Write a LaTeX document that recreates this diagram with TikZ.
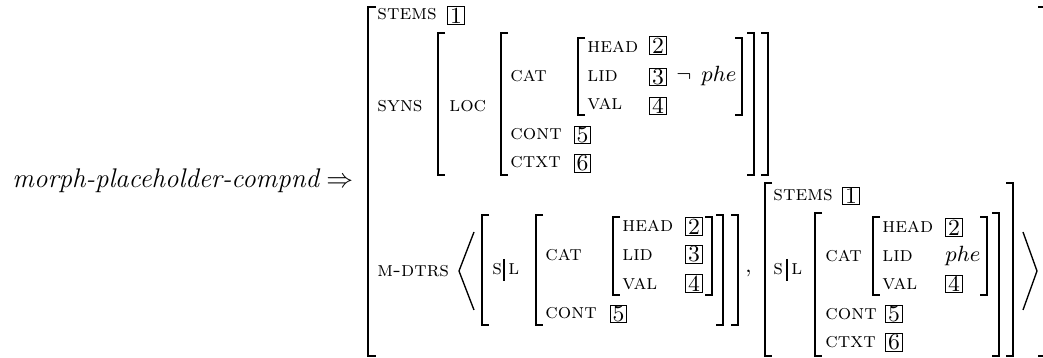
\documentclass[tikz,border=0pt]{standalone}
\newcommand\LBrk[4][7]{\draw[br] ({#2+#1},#3) -- (#2,#3) -- (#2,#4) -- ({#2+#1},#4);}
\newcommand\RBrk[4][7]{\draw[br] ({#2-#1},#3) -- (#2,#3) -- (#2,#4) -- ({#2-#1},#4);}
\begin{document}
\begin{tikzpicture}[
 x=0.4082pt, y=-0.4082pt,
 br/.style={line width=0.55pt, line cap=butt},
 lab/.style={anchor=base west, inner sep=0pt, font=\fontsize{8.6}{10}\selectfont\scshape},
 val/.style={anchor=base west, inner sep=0pt, font=\fontsize{9}{11}\selectfont},
 tag/.style={draw, line width=0.4pt, inner sep=0pt, minimum width=6.7pt, minimum height=7.1pt, font=\fontsize{9.4}{11}\selectfont},
]
\useasboundingbox (0,0) rectangle (1043,358);
% title
\node[val, font=\fontsize{11}{13}\selectfont] (title) at (12,188) {$\textit{morph-placeholder-compnd}\Rightarrow$};
% outer bracket
\LBrk[8]{368}{7}{356}
\RBrk[6]{1044}{7}{356}
% top level
\node[lab] (stems) at (377,20) {stems};
\node[tag] (t1) at (456,15.5) {1};
\node[lab] (syns) at (377,112) {syns};
\LBrk{438}{33}{175}
\RBrk{768}{33}{175}
\node[lab] (loc) at (449,112) {loc};
\LBrk{501}{33}{175}
\RBrk{754}{33}{175}
\node[lab] (cat) at (510,82) {cat};
\LBrk{578}{38}{115}
\RBrk{742}{38}{115}
\node[lab] (head) at (587,53) {head};
\node[tag] (t2) at (658,45.5) {2};
\node[lab] (lid) at (587,82) {lid};
\node[tag] (t3) at (658,77) {3};
\node[val] (neg) at (676,82) {$\neg$};
\node[val] (phe) at (701,82) {$phe$};
\node[lab] (valf) at (587,110) {val};
\node[tag] (t4) at (658,106) {4};
\node[lab] (cont) at (510,140) {cont};
\node[tag] (t5) at (582.5,135) {5};
\node[lab] (ctxt) at (510,168) {ctxt};
\node[tag] (t6) at (582.5,163.5) {6};
% m-dtrs
\node[lab] (mdtrs) at (377,277) {m-dtrs};
\draw[br] (474,232) -- (459,271) -- (474,310);
% element 1
\LBrk{482}{215}{325}
\RBrk{738}{215}{325}
\node[lab] (s1) at (492,275) {s};
\draw[line width=0.45pt] (504,259) -- (504,281);
\node[lab] (l1) at (508,275) {l};
\LBrk{536}{215}{325}
\RBrk{723}{215}{325}
\node[lab] (cat1) at (545,261) {cat};
\LBrk{613}{217}{295}
\RBrk{712}{217}{295}
\node[lab] (head1) at (622,232) {head};
\node[tag] (t21) at (694,226.5) {2};
\node[lab] (lid1) at (622,261) {lid};
\node[tag] (t31) at (694,254.5) {3};
\node[lab] (val1) at (622,290) {val};
\node[tag] (t41) at (694,283.5) {4};
\node[lab] (cont1) at (545,319) {cont};
\node[tag] (t51) at (618.5,314) {5};
\node[val] (comma) at (745,273) {,};
% element 2
\LBrk{765}{183}{356}
\RBrk{1013}{183}{356}
\node[lab] (stems2) at (773,201) {stems};
\node[tag] (t12) at (851,196) {1};
\node[lab] (s2) at (773,275) {s};
\draw[line width=0.45pt] (787,259) -- (787,281);
\node[lab] (l2) at (791,275) {l};
\LBrk{815}{213}{356}
\RBrk{999}{213}{356}
\node[lab] (cat2) at (825,262) {cat};
\LBrk{873}{217}{295}
\RBrk{987}{217}{295}
\node[lab] (head2) at (882,233) {head};
\node[tag] (t22) at (954,227.5) {2};
\node[lab] (lid2) at (882,262) {lid};
\node[val] (phe2) at (945,262) {$phe$};
\node[lab] (val2) at (882,290) {val};
\node[tag] (t42) at (954,284) {4};
\node[lab] (cont2) at (825,320) {cont};
\node[tag] (t52) at (894,314) {5};
\node[lab] (ctxt2) at (825,348) {ctxt};
\node[tag] (t62) at (894,342.5) {6};
\draw[br] (1023,232) -- (1037,271) -- (1023,310);
\end{tikzpicture}
\end{document}
